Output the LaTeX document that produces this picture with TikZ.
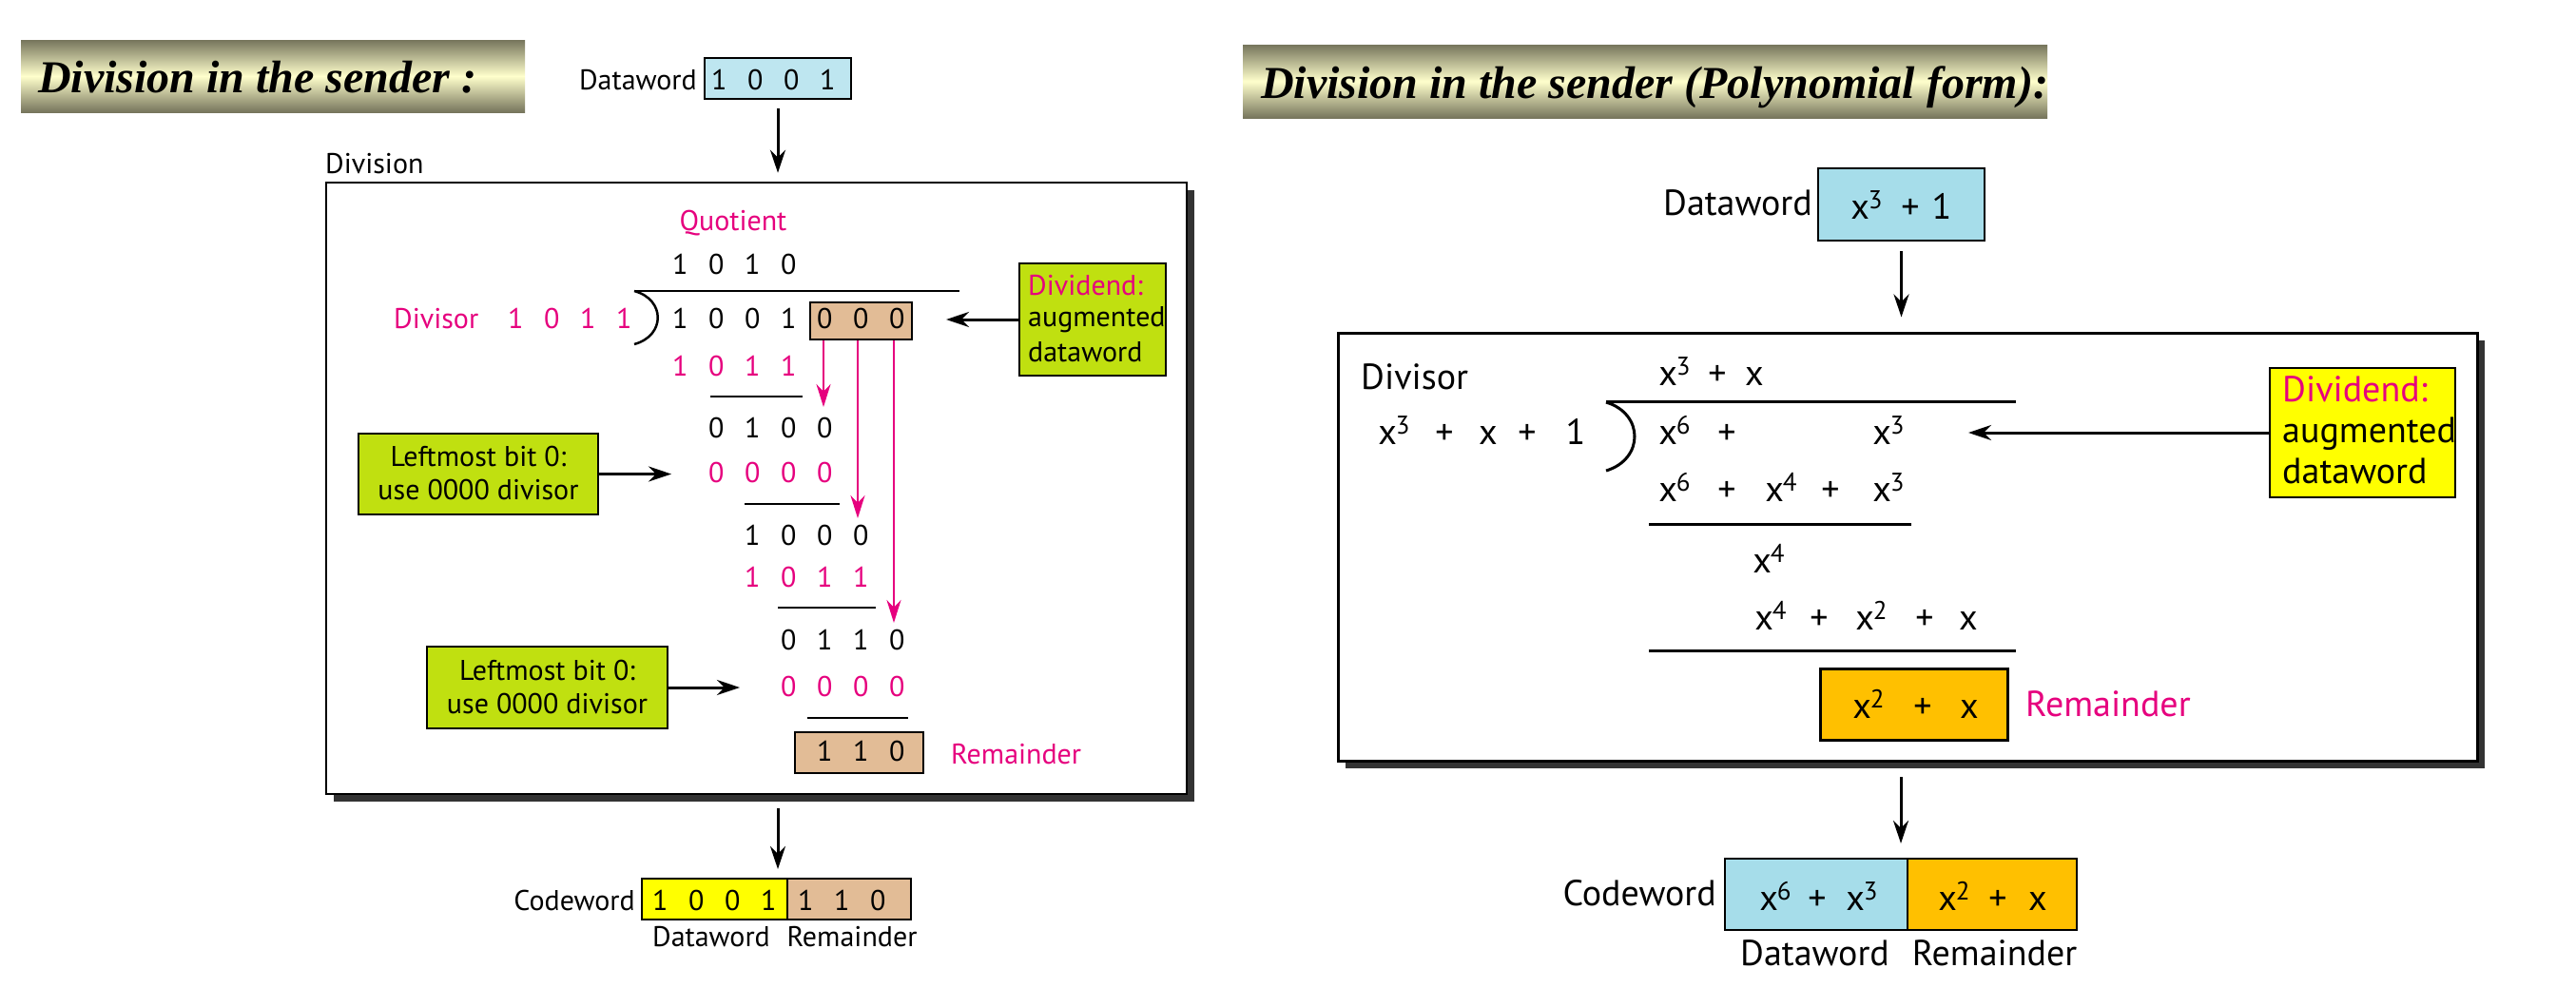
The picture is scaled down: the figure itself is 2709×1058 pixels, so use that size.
\documentclass[tikz,border=0pt]{standalone}
\usepackage{fontspec}
\setmainfont{PT Sans}
\newfontfamily\titlefont{Liberation Serif}
\usetikzlibrary{arrows.meta}
\definecolor{pk}{RGB}{230,0,126}
\definecolor{lblue}{RGB}{190,230,240}
\definecolor{lblueR}{RGB}{166,221,234}
\definecolor{tanc}{RGB}{226,188,150}
\definecolor{lime}{RGB}{192,224,16}
\definecolor{orng}{RGB}{255,192,0}
\definecolor{yel}{RGB}{255,255,0}
\definecolor{banD}{RGB}{118,117,92}
\definecolor{banL}{RGB}{255,255,204}
\newcommand\dg[1]{\makebox[38pt]{#1}}
\newcommand\pw[1]{\kern-1pt\raisebox{11pt}{\fontsize{27}{27}\selectfont #1}}
\newcommand\tm[4]{\node[txtR,anchor=base] (#1) at (#2,#3) {#4};}
\begin{document}
\begin{tikzpicture}[x=1pt,y=-1pt,
  txtL/.style={inner sep=0pt, font=\fontsize{30}{36}\selectfont},
  txtR/.style={inner sep=0pt, font=\fontsize{38}{45}\selectfont},
  ttl/.style={inner sep=0pt, font=\titlefont\bfseries\itshape\fontsize{48}{58}\selectfont},
  bx/.style={draw=black, line width=2.5pt, inner sep=0pt},
  arr/.style={line width=3pt, -{Stealth[length=24pt,width=16pt]}},
  parr/.style={draw=pk, line width=2.5pt, -{Stealth[length=24pt,width=15pt]}},
  rule/.style={line width=2.5pt},
  shadowc/.style={fill=black!80},
  banner/.style={top color=banD, bottom color=banD, middle color=banL}
]
\useasboundingbox (0,0) rectangle (2709,1058);
\fill[white] (0,0) rectangle (2709,1058);

% ---------- banners ----------
\shade[banner] (22,42) rectangle (552,118);
\node[ttl, anchor=base west] (title1) at (40,97) {Division in the sender :};
\shade[banner] (1307,47) rectangle (2153,124);
\node[ttl, anchor=base west] (title2) at (1326,103) {Division in the sender (Polynomial form):};

% ---------- left: dataword ----------
\node[txtL, anchor=base east] (dwlab) at (733,94) {Dataword};
\node[bx, line width=2pt, fill=lblue, minimum width=154pt, minimum height=43pt] (dw1) at (818,82.5) {};
\node[txtL, anchor=base west] (dwd) at (737,94) {\dg1\dg0\dg0\dg1};
\node[txtL, anchor=base west] (divlab) at (342,182) {Division};

% ---------- left: division box ----------
\fill[shadowc] (351,200) rectangle (1256,843);
\node[bx, fill=white, minimum width=905pt, minimum height=643pt] (divL) at (795.5,513.5) {};
\draw[arr] ([yshift=-9pt]dw1.south) -- ([yshift=9pt]divL.north -| dw1.south);

\node[txtL, text=pk, anchor=base] (quot) at (771,242) {Quotient};
\node[txtL, anchor=base west] (q) at (696,288) {\dg1\dg0\dg1\dg0};
\draw[rule] (667,306) -- (1009,306);
\draw[rule] (667,306) .. controls (700,315) and (700,353) .. (667,362);
\node[txtL, text=pk, anchor=base west] (dvsr) at (414,345) {Divisor};
\node[txtL, text=pk, anchor=base west] (dvsd) at (523,345) {\dg1\dg0\dg1\dg1};
\node[bx, line width=2pt, fill=tanc, minimum width=107pt, minimum height=39pt] (aug) at (905.5,337.5) {};
\node[txtL, anchor=base west] (dd) at (696,345) {\dg1\dg0\dg0\dg1\dg0\dg0\dg0};

\node[txtL, text=pk, anchor=base west] (s1) at (696,395) {\dg1\dg0\dg1\dg1};
\draw[rule] (747,417) -- (844,417);
\node[txtL, anchor=base west] (r1) at (734,460) {\dg0\dg1\dg0\dg0};
\node[txtL, text=pk, anchor=base west] (s2) at (734,507) {\dg0\dg0\dg0\dg0};
\draw[rule] (783,530) -- (883,530);
\node[txtL, anchor=base west] (r2) at (772,573) {\dg1\dg0\dg0\dg0};
\node[txtL, text=pk, anchor=base west] (s3) at (772,617) {\dg1\dg0\dg1\dg1};
\draw[rule] (818,639) -- (921,639);
\node[txtL, anchor=base west] (r3) at (810,683) {\dg0\dg1\dg1\dg0};
\node[txtL, text=pk, anchor=base west] (s4) at (810,732) {\dg0\dg0\dg0\dg0};
\draw[rule] (849,755) -- (955,755);
\node[bx, line width=2pt, fill=tanc, minimum width=135pt, minimum height=43pt] (rem) at (903.5,791.5) {};
\node[txtL, anchor=base west] (remd) at (848,800) {\dg1\dg1\dg0};
\node[txtL, text=pk, anchor=base west] (remlab) at (1000,803) {Remainder};

% pink arrows
\coordinate (pa1) at (866,428);
\coordinate (pa2) at (902,545);
\coordinate (pa3) at (940,655);
\draw[parr] (aug.south -| pa1) -- (pa1);
\draw[parr] (aug.south -| pa2) -- (pa2);
\draw[parr] (aug.south -| pa3) -- (pa3);

% dividend box
\node[bx, fill=lime, minimum width=154pt, minimum height=118pt] (divd) at (1149,336) {};
\node[txtL, text=pk, anchor=base west] (divd1) at (1081,310) {Dividend:};
\node[txtL, anchor=base west] (divd2) at (1081,343) {augmented};
\node[txtL, anchor=base west] (divd3) at (1081,380) {dataword};
\coordinate (augtip) at (995,336);
\draw[arr] (divd.west) -- (augtip);

% leftmost boxes
\node[bx, fill=lime, minimum width=252pt, minimum height=85pt] (lm1) at (503,498.5) {};
\node[txtL, anchor=base] (lm1a) at (503,490) {Leftmost bit 0:};
\node[txtL, anchor=base] (lm1b) at (503,525) {use 0000 divisor};
\coordinate (lm1tip) at (706,498.5);
\draw[arr] (lm1.east) -- (lm1tip);
\node[bx, fill=lime, minimum width=253pt, minimum height=86pt] (lm2) at (575.5,723) {};
\node[txtL, anchor=base] (lm2a) at (575.5,715) {Leftmost bit 0:};
\node[txtL, anchor=base] (lm2b) at (575.5,750) {use 0000 divisor};
\coordinate (lm2tip) at (778,723);
\draw[arr] (lm2.east) -- (lm2tip);

% ---------- left: codeword ----------
\node[bx, line width=2pt, fill=yel, minimum width=153pt, minimum height=43pt] (cwY) at (751.5,945.5) {};
\node[bx, line width=2pt, fill=tanc, minimum width=130pt, minimum height=43pt] (cwB) at (893,945.5) {};
\node[txtL, anchor=base west] (cwYd) at (675,957) {\dg1\dg0\dg0\dg1};
\node[txtL, anchor=base west] (cwBd) at (828,957) {\dg1\dg1\dg0};
\node[txtL, anchor=base east] (cwlab) at (668,957) {Codeword};
\node[txtL, anchor=base] (cwdl) at (748,995) {Dataword};
\node[txtL, anchor=base] (cwrl) at (896,995) {Remainder};
\coordinate (a2s) at (818,850);
\draw[arr] (a2s) -- ([yshift=9pt]a2s |- cwY.north);

% ---------- right: dataword ----------
\node[txtR, anchor=base east] (dwlabR) at (1906,226) {Dataword};
\node[bx, fill=lblueR, minimum width=175pt, minimum height=76pt] (dw2) at (1999.5,215) {};
\tm{dwx}{1963}{230}{x\pw3}
\tm{dwp}{2009}{230}{+}
\tm{dwo}{2042}{230}{1}

% ---------- right: division box ----------
\fill[shadowc] (1415,358) rectangle (2613,808);
\node[bx, line width=3pt, fill=white, minimum width=1198pt, minimum height=450pt] (divR) at (2006,575) {};
\draw[arr] ([yshift=-10pt]dw2.south) -- ([yshift=15pt]divR.north -| dw2.south);

\node[txtR, anchor=base west] (dvsrR) at (1431,409) {Divisor};
\tm{g1}{1466}{467}{x\pw3}
\tm{g2}{1519}{467}{+}
\tm{g3}{1565}{467}{x}
\tm{g4}{1606}{467}{+}
\tm{g5}{1657}{467}{1}
\draw[rule, line width=3pt] (1689,422) -- (2120,422);
\draw[rule, line width=3pt] (1689,423) .. controls (1729,435) and (1729,483) .. (1689,495);
\tm{q1}{1761}{405}{x\pw3}
\tm{q2}{1806}{405}{+}
\tm{q3}{1845}{405}{x}
\tm{d1}{1761}{467}{x\pw6}
\tm{d2}{1816}{467}{+}
\tm{d3}{1986}{467}{x\pw3}
\tm{e1}{1761}{527}{x\pw6}
\tm{e2}{1816}{527}{+}
\tm{e3}{1873}{527}{x\pw4}
\tm{e4}{1925}{527}{+}
\tm{e5}{1986}{527}{x\pw3}
\draw[rule, line width=3pt] (1734,551) -- (2010,551);
\tm{f1}{1860}{602}{x\pw4}
\tm{h1}{1862}{662}{x\pw4}
\tm{h2}{1913}{662}{+}
\tm{h3}{1968}{662}{x\pw2}
\tm{h4}{2024}{662}{+}
\tm{h5}{2070}{662}{x}
\draw[rule, line width=3pt] (1734,684) -- (2120,684);
\node[bx, line width=3pt, fill=orng, minimum width=197pt, minimum height=75pt] (remR) at (2012.5,740.5) {};
\tm{k1}{1965}{755}{x\pw2}
\tm{k2}{2022}{755}{+}
\tm{k3}{2071}{755}{x}
\node[txtR, text=pk, anchor=base west] (remlabR) at (2130,753) {Remainder};

\node[bx, fill=yel, minimum width=195pt, minimum height=136pt] (divdR) at (2484.5,455) {};
\node[txtR, text=pk, anchor=base west] (divdR1) at (2400,422) {Dividend:};
\node[txtR, anchor=base west] (divdR2) at (2400,465) {augmented};
\node[txtR, anchor=base west] (divdR3) at (2400,508) {dataword};
\coordinate (tipR) at (2070,455);
\draw[arr] (divdR.west) -- (tipR);

% ---------- right: codeword ----------
\node[bx, line width=2pt, fill=lblueR, minimum width=192pt, minimum height=75pt] (cwRB) at (1910,940.5) {};
\node[bx, line width=2pt, fill=orng, minimum width=178pt, minimum height=75pt] (cwRO) at (2095,940.5) {};
\tm{m1}{1867}{957}{x\pw6}
\tm{m2}{1911}{957}{+}
\tm{m3}{1958}{957}{x\pw3}
\tm{n1}{2055}{957}{x\pw2}
\tm{n2}{2101}{957}{+}
\tm{n3}{2143}{957}{x}
\node[txtR, anchor=base east] (cwlabR) at (1805,952) {Codeword};
\node[txtR, anchor=base] (cwdlR) at (1908.5,1015) {Dataword};
\node[txtR, anchor=base] (cwrlR) at (2097.5,1015) {Remainder};
\coordinate (a3s) at (1999,817);
\draw[arr] (a3s) -- ([yshift=15pt]a3s |- cwRB.north);
\end{tikzpicture}
\end{document}
